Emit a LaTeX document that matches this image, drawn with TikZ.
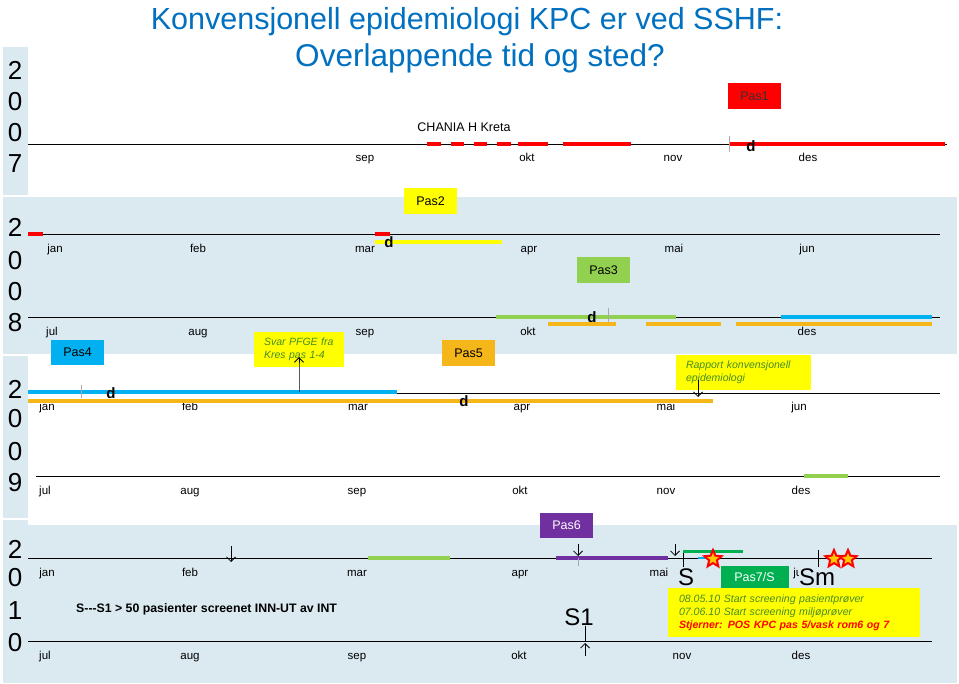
\documentclass[tikz,border=0pt]{standalone}
\usepackage{fontspec}
\setmainfont{Liberation Sans}
\usetikzlibrary{arrows.meta,shapes.geometric}
\definecolor{bandblue}{RGB}{219,234,241}
\definecolor{titleblue}{RGB}{0,112,192}
\definecolor{pasred}{RGB}{255,0,0}
\definecolor{pasyellow}{RGB}{255,255,0}
\definecolor{paslgreen}{RGB}{146,208,80}
\definecolor{pasblue}{RGB}{0,176,240}
\definecolor{pasorange}{RGB}{245,182,25}
\definecolor{paspurple}{RGB}{112,48,160}
\definecolor{pasgreen}{RGB}{0,176,80}
\definecolor{notegreen}{RGB}{70,140,40}
\definecolor{tickgrey}{RGB}{170,170,170}
\definecolor{stargold}{RGB}{255,200,0}
\begin{document}
\begin{tikzpicture}[x=1pt,y=-1pt,
  month/.style={font=\fontsize{11.5}{13}\selectfont, inner sep=0pt, anchor=base},
  yeardigit/.style={font=\fontsize{26}{26}\selectfont, inner sep=0pt},
  tline/.style={line width=0.9pt, black},
  seg/.style={line width=3.6pt},
  pasbox/.style={minimum width=53pt, minimum height=26pt, inner sep=0pt, font=\fontsize{12.5}{14}\selectfont},
  notebox/.style={fill=pasyellow, inner ysep=0pt, align=left, font=\fontsize{10.5}{13}\selectfont\itshape, text=notegreen},
  dmark/.style={font=\bfseries\fontsize{15}{15}\selectfont, inner sep=0pt},
  bigtxt/.style={font=\fontsize{24}{24}\selectfont, inner sep=0pt},
  arr/.style={-{Straight Barb[length=4.5pt,width=9pt]}, line width=0.8pt},
  gtick/.style={tickgrey, line width=0.6pt},
  kpcstar/.style={star, star points=5, star point ratio=2.2, fill=stargold, draw=red, line width=2pt, minimum size=18pt, inner sep=0pt}
]
\useasboundingbox (0,0) rectangle (959,684);
\fill[white] (0,0) rectangle (959,684);
% background bands
\fill[bandblue] (3,47) rectangle (28,195);
\fill[bandblue] (3,197) rectangle (957,354);
\fill[bandblue] (3,356) rectangle (28,518);
\fill[bandblue] (3,520) rectangle (28,683);
\fill[bandblue] (3,525) rectangle (957,683);

% title
\node[font=\fontsize{30.5}{30}\selectfont, text=titleblue, anchor=base, inner sep=0pt] (title1) at (467,30) {Konvensjonell epidemiologi KPC er ved SSHF:};
\node[font=\fontsize{31.5}{30}\selectfont, text=titleblue, anchor=base, inner sep=0pt] (title2) at (480,67) {Overlappende tid og sted?};

% year digits
\foreach \d/\y [count=\i] in {2/70,0/102,0/133,7/164} \node[yeardigit] (y7-\i) at (15,\y) {\d};
\foreach \d/\y [count=\i] in {2/227,0/261,0/292,8/323} \node[yeardigit] (y8-\i) at (15,\y) {\d};
\foreach \d/\y [count=\i] in {2/389,0/419,0/452,9/483} \node[yeardigit] (y9-\i) at (15,\y) {\d};
\foreach \d/\y [count=\i] in {2/549,0/578,1/611,0/643} \node[yeardigit] (y10-\i) at (15,\y) {\d};

% ===== 2007 =====
\coordinate (a07) at (28,144); \coordinate (b07) at (947,144);
\draw[tline] (a07) -- (b07);
\foreach \m/\x in {sep/365,okt/527,nov/673,des/808} \node[month] (m07-\m) at (\x,162) {\m};
\node[font=\fontsize{12.5}{13}\selectfont, inner sep=0pt] (chania) at (464,127) {CHANIA H Kreta};
\foreach \s/\e [count=\i] in {427/441,451/464,474/487,497/511,518/548,563/631}{
  \coordinate (rs\i) at (\s,144); \coordinate (re\i) at (\e,144);
  \draw[seg, pasred] (rs\i) -- (re\i);}
\coordinate (r07s) at (729,144); \coordinate (r07e) at (945,144);
\draw[seg, pasred] (r07s) -- (r07e);
\coordinate (t07a) at (729,136); \coordinate (t07b) at (729,152);
\draw[gtick] (t07a) -- (t07b);
\node[pasbox, fill=pasred, text=black!80] (pas1) at (754.5,96.5) {Pas1};
\node[dmark] (d07) at (751,146) {d};

% ===== 2008 =====
\coordinate (a08a) at (28,234); \coordinate (b08a) at (940,234);
\draw[tline] (a08a) -- (b08a);
\coordinate (a08b) at (28,317); \coordinate (b08b) at (940,317);
\draw[tline] (a08b) -- (b08b);
\foreach \m/\x in {jan/55,feb/198,mar/365,apr/529,mai/674,jun/807} \node[month] (m08-\m) at (\x,253) {\m};
\foreach \m/\x in {jul/52,aug/198,sep/365,okt/528,des/807} \node[month] (m08-\m) at (\x,336) {\m};
% red bits
\coordinate (r08a) at (28,234); \coordinate (r08b) at (43,234);
\draw[seg, pasred] (r08a) -- (r08b);
\coordinate (r08c) at (375,234); \coordinate (r08d) at (390,234);
\draw[seg, pasred] (r08c) -- (r08d);
% yellow Pas2
\coordinate (y08a) at (375,242); \coordinate (y08b) at (502,242);
\draw[seg, pasyellow] (y08a) -- (y08b);
\node[dmark] (d08a) at (389,242) {d};
\node[pasbox, fill=pasyellow] (pas2) at (430.5,201.5) {Pas2};
% Pas3 green
\node[pasbox, fill=paslgreen] (pas3) at (603.5,270) {Pas3};
\coordinate (g08a) at (496,317); \coordinate (g08b) at (676,317);
\draw[seg, paslgreen] (g08a) -- (g08b);
\coordinate (t08a) at (608,308); \coordinate (t08b) at (608,322);
\draw[gtick] (t08a) -- (t08b);
\node[dmark] (d08b) at (592,317) {d};
% orange Pas5 segments
\foreach \s/\e [count=\i] in {548/616,646/721,736/932}{
  \coordinate (os\i) at (\s,324); \coordinate (oe\i) at (\e,324);
  \draw[seg, pasorange] (os\i) -- (oe\i);}
% blue Pas4
\coordinate (bl08a) at (781,317); \coordinate (bl08b) at (932,317);
\draw[seg, pasblue] (bl08a) -- (bl08b);
\node[pasbox, fill=pasblue, minimum height=25pt] (pas4) at (77.5,352.5) {Pas4};
\node[pasbox, fill=pasorange] (pas5) at (468.5,353) {Pas5};
\node[notebox, minimum height=35pt, inner xsep=10pt, text width=70pt] (svar) at (299,349.5) {Svar PFGE fra\\Kres pas 1-4};

% ===== 2009 =====
\coordinate (a09a) at (28,393); \coordinate (b09a) at (940,393);
\draw[tline] (a09a) -- (b09a);
\coordinate (a09b) at (36,476); \coordinate (b09b) at (940,476);
\draw[tline] (a09b) -- (b09b);
\foreach \m/\x in {jan/47,feb/190,mar/358,apr/522,mai/666,jun/799} \node[month] (m09-\m) at (\x,411) {\m};
\foreach \m/\x in {jul/45,aug/190,sep/357,okt/520,nov/666,des/801} \node[month] (m09-\m) at (\x,494) {\m};
\coordinate (bl09a) at (28,392); \coordinate (bl09b) at (397,392);
\draw[seg, pasblue] (bl09a) -- (bl09b);
\coordinate (o09a) at (28,401); \coordinate (o09b) at (713,401);
\draw[seg, pasorange] (o09a) -- (o09b);
\coordinate (t09a) at (81,385); \coordinate (t09b) at (81,398);
\draw[gtick] (t09a) -- (t09b);
\node[dmark] (d09a) at (111,393) {d};
\node[dmark] (d09b) at (464,401) {d};
\coordinate (svararr) at (299,392);
\draw[arr] (svararr) -- (svar.south -| svararr) -- ++(0,-10);
\node[notebox, minimum height=35pt, inner xsep=10pt, text width=115pt] (rapport) at (743.5,372.5) {Rapport konvensjonell\\epidemiologi};
\coordinate (rapp) at (698,397);
\draw[arr] (rapport.south -| rapp) ++(0,-10) -- (rapp);
\coordinate (g09a) at (804,476); \coordinate (g09b) at (848,476);
\draw[seg, paslgreen] (g09a) -- (g09b);

% ===== 2010 =====
\coordinate (a10a) at (28,558); \coordinate (b10a) at (932,558);
\draw[tline] (a10a) -- (b10a);
\coordinate (a10b) at (28,641); \coordinate (b10b) at (932,641);
\draw[tline] (a10b) -- (b10b);
\foreach \m/\x in {jan/47,feb/190,mar/357,apr/520,mai/659,jun/801} \node[month] (m10-\m) at (\x,576) {\m};
\foreach \m/\x in {jul/45,aug/190,sep/357,okt/519,nov/682,des/801} \node[month] (m10-\m) at (\x,659) {\m};
\coordinate (g10a) at (368,558); \coordinate (g10b) at (450,558);
\draw[seg, paslgreen] (g10a) -- (g10b);
\coordinate (p10a) at (556,558); \coordinate (p10b) at (668,558);
\draw[seg, paspurple] (p10a) -- (p10b);
\node[pasbox, fill=paspurple, text=white, minimum height=25pt] (pas6) at (566.5,525.5) {Pas6};
% arrows
\coordinate (ar1a) at (231,546); \coordinate (ar1b) at (231,562);
\draw[arr] (ar1a) -- (ar1b);
\coordinate (ar2a) at (578,544); \coordinate (ar2b) at (578,556);
\draw[arr] (ar2a) -- (ar2b);
\coordinate (t10a) at (578,558); \coordinate (t10b) at (578,566);
\draw[gtick] (t10a) -- (t10b);
\coordinate (ar3a) at (675,544); \coordinate (ar3b) at (675,556);
\draw[arr] (ar3a) -- (ar3b);
% S marker
\coordinate (sk1) at (683,567); \coordinate (sk2) at (683,551); \coordinate (sk3) at (743,551);
\draw[line width=0.8pt] (sk1) -- (sk2);
\draw[line width=3pt, pasgreen] (sk2) -- (sk3);
\coordinate (sb1) at (698,558); \coordinate (sb2) at (708,558);
\draw[line width=2.5pt, pasblue] (sb1) -- (sb2);
\coordinate (sm1) at (818,550); \coordinate (sm2) at (818,567);
\draw[line width=0.8pt] (sm1) -- (sm2);
\node[kpcstar] (star1) at (713,559) {};
\node[kpcstar] (star2) at (834,559) {};
\node[kpcstar] (star3) at (848,559) {};
\node[bigtxt] (S) at (686,577) {S};
\node[bigtxt, fill=bandblue, inner sep=0.5pt] (Sm) at (817,577) {Sm};
\node[pasbox, fill=pasgreen, text=white, minimum width=68pt, minimum height=23pt, font=\fontsize{12.5}{13}\selectfont] (pas7) at (754.5,577.5) {Pas7/S};
\node[notebox, minimum height=49pt, inner xsep=11pt, text width=230pt, font=\fontsize{10.6}{13}\selectfont\itshape] (scr) at (794,612.5) {08.05.10 Start screening pasientprøver\\07.06.10 Start screening miljøprøver\\{\color{red}\bfseries Stjerner: POS KPC pas 5/vask rom6 og 7}};
\node[font=\bfseries\fontsize{12.3}{13}\selectfont, inner sep=0pt, anchor=west] (sss) at (76,609) {S-{}-{}-S1 > 50 pasienter screenet INN-UT av INT};
\node[bigtxt] (S1) at (579,617) {S1};
\coordinate (s1b) at (585,641); \coordinate (s1c) at (585,656); \coordinate (s1d) at (585,643);
\draw[line width=0.8pt] (S1.south -| s1b) -- (s1b);
\draw[arr] (s1c) -- (s1d);
\end{tikzpicture}
\end{document}
